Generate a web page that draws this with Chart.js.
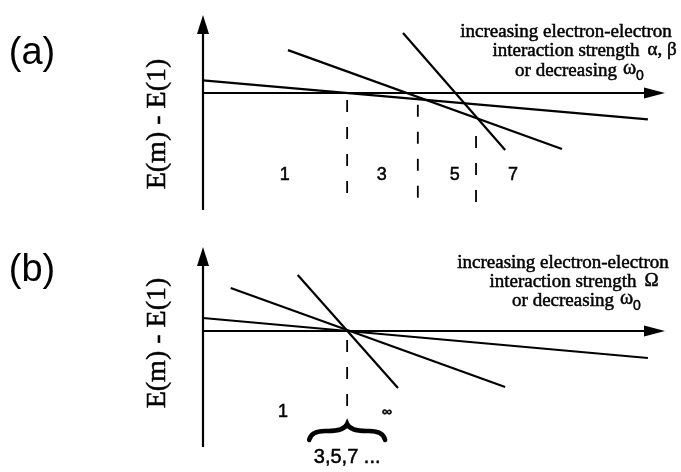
<!DOCTYPE html>
<html>
<head>
<meta charset="utf-8">
<script src="https://cdn.jsdelivr.net/npm/chart.js@4.4.1/dist/chart.umd.min.js"></script>
<style>
  html, body { margin: 0; padding: 0; background: #fff; }
  canvas { display: block; }
</style>
</head>
<body>
<canvas id="chart-a" width="681" height="236"></canvas>
<canvas id="chart-b" width="681" height="236"></canvas>
<script>
/* E(m) - E(1) vs interaction strength, schematic level crossings */

// panel (a): level lines m = 3, 5, 7 (x = interaction strength, y = E(m) - E(1))
var aLineX = [[0, 9.63], [1.84, 7.77], [4.33, 6.54]];
var aLineY = [[0.65, -1.35], [2.2, -2.87], [3.08, -2.92]];
var aCrossX = [3.12, 4.65, 5.91];
var aCrossTop = [-0.36, -0.6, -2.2];
var aLevels = ['1', '3', '5', '7'];
var aLevelX = [1.77, 3.87, 5.45, 6.71];

// panel (b): all levels cross at one point
var bLineX = [[0, 9.63], [0.6, 6.54], [2.05, 4.22]];
var bLineY = [[0.65, -1.35], [2.15, -2.8], [2.8, -2.85]];
var bCrossX = [3.12];
var bCrossTop = [-0.45];
var bLevels = ['1', '\u221e'];
var bLevelX = [1.73, 3.98];

(function () {
    'use strict';

    var serif = "'Liberation Serif', 'Times New Roman', serif";
    var sans = "'Liberation Sans', Arial, sans-serif";

    function lineSets(xs, ys, crossX, crossTop, crossBottom) {
        var sets = xs.map(function (x, i) {
            return {
                data: [{ x: x[0], y: ys[i][0] }, { x: x[1], y: ys[i][1] }],
                borderColor: '#000',
                borderWidth: 2.2,
                showLine: true,
                pointRadius: 0,
                clip: false
            };
        });
        crossX.forEach(function (cx, i) {
            sets.push({
                data: [{ x: cx, y: crossTop[i] }, { x: cx, y: crossBottom }],
                borderColor: '#000',
                borderWidth: 1.8,
                borderDash: [12, 15],
                showLine: true,
                pointRadius: 0,
                clip: false
            });
        });
        return sets;
    }

    function drawText(ctx, txt, x, y, font, align, thin) {
        ctx.font = font;
        ctx.textAlign = align || 'center';
        ctx.textBaseline = 'middle';
        ctx.fillText(txt, x, y);
        if (thin) return;
        ctx.lineWidth = 0.5;
        ctx.strokeText(txt, x, y);
    }

    // axes with arrow heads, labels and notes
    function diagram(cfg) {
        return {
            id: 'diagram',
            afterDatasetsDraw: function (chart) {
                var ctx = chart.ctx;
                var xs = chart.scales.x, ys = chart.scales.y;
                var x0 = xs.getPixelForValue(0);
                var y0 = ys.getPixelForValue(0);
                var xEnd = xs.getPixelForValue(xs.max);
                var yTop = ys.getPixelForValue(ys.max);
                var yBot = ys.getPixelForValue(ys.min);
                ctx.save();
                ctx.strokeStyle = '#000';
                ctx.fillStyle = '#000';
                ctx.lineWidth = 2.2;

                ctx.beginPath();
                ctx.moveTo(x0, yBot); ctx.lineTo(x0, yTop + 10);
                ctx.moveTo(x0, y0); ctx.lineTo(xEnd - 12, y0);
                ctx.stroke();

                ctx.beginPath();
                ctx.moveTo(x0, yTop); ctx.lineTo(x0 - 6, yTop + 19); ctx.lineTo(x0 + 6, yTop + 19);
                ctx.closePath(); ctx.fill();
                ctx.beginPath();
                ctx.moveTo(xEnd, y0); ctx.lineTo(xEnd - 21, y0 - 5.5); ctx.lineTo(xEnd - 21, y0 + 5.5);
                ctx.closePath(); ctx.fill();

                drawText(ctx, cfg.tag, 32, cfg.tagY, '38px ' + sans, 'center', true);

                ctx.save();
                ctx.translate(158, cfg.labelY);
                ctx.rotate(-Math.PI / 2);
                drawText(ctx, 'E(m) - E(1)', 0, 0, '28px ' + serif);
                ctx.restore();

                cfg.levels.forEach(function (t, i) {
                    var small = t === '\u221e';
                    drawText(ctx, t, xs.getPixelForValue(cfg.levelX[i]), ys.getPixelForValue(cfg.levelY),
                        (small ? 'bold 14px ' : '18px ') + sans);
                });

                var n = cfg.note;
                var f = '19px ' + serif;
                drawText(ctx, 'increasing electron-electron', n.cx, n.y[0], f);
                drawText(ctx, 'interaction strength', n.cx, n.y[1], f);
                ctx.font = f;
                var w2 = ctx.measureText('interaction strength').width;
                drawText(ctx, n.sym, n.cx + w2 / 2 + 8, n.y[1] - 1, f, 'left');
                ctx.font = f;
                var w3 = ctx.measureText('or decreasing').width;
                drawText(ctx, 'or decreasing', n.cx, n.y[2], f);
                drawText(ctx, '\u03c9', n.cx + w3 / 2 + 6, n.y[2] - 2, '20px ' + serif, 'left');
                drawText(ctx, '0', n.cx + w3 / 2 + 19, n.y[2] + 5, '14px ' + sans, 'left');

                if (cfg.brace) {
                    var bx = xs.getPixelForValue(cfg.brace.x);
                    var tip = ys.getPixelForValue(cfg.brace.tip);
                    var end = ys.getPixelForValue(cfg.brace.end);
                    var mid = (tip + end) / 2;
                    var hw = 38;
                    ctx.lineWidth = 4.5;
                    ctx.lineCap = 'round';
                    ctx.beginPath();
                    ctx.moveTo(bx - hw, end + 2);
                    ctx.quadraticCurveTo(bx - hw + 2, mid - 1, bx - hw / 2, mid);
                    ctx.quadraticCurveTo(bx - 3, mid, bx, tip);
                    ctx.quadraticCurveTo(bx + 3, mid, bx + hw / 2, mid);
                    ctx.quadraticCurveTo(bx + hw - 2, mid - 1, bx + hw, end + 2);
                    ctx.stroke();
                    drawText(ctx, '3,5,7 ...', bx, ys.getPixelForValue(cfg.brace.textY), '20px ' + sans);
                }
                ctx.restore();
            }
        };
    }

    function makeChart(id, sets, yMin, yMax, pad, plugin) {
        return new Chart(document.getElementById(id), {
            type: 'scatter',
            data: { datasets: sets },
            options: {
                responsive: false,
                animation: false,
                layout: { padding: pad },
                plugins: { legend: { display: false }, tooltip: { enabled: false } },
                scales: {
                    x: { type: 'linear', min: 0, max: 10, display: false },
                    y: { type: 'linear', min: yMin, max: yMax, display: false }
                }
            },
            plugins: [plugin]
        });
    }

    /* (a) */
    makeChart('chart-a', lineSets(aLineX, aLineY, aCrossX, aCrossTop, -5.9), -6, 4,
        { left: 203, right: 16, top: 15, bottom: 26 },
        diagram({
            tag: '(a)', tagY: 54, labelY: 124,
            levels: aLevels, levelX: aLevelX, levelY: -4.2,
            note: { cx: 566, y: [32, 51, 71], sym: '\u03b1, \u03b2' }
        }));

    /* (b) */
    makeChart('chart-b', lineSets(bLineX, bLineY, bCrossX, bCrossTop, -4.35), -5.8, 4.2,
        { left: 203, right: 16, top: 11, bottom: 25 },
        diagram({
            tag: '(b)', tagY: 35, labelY: 107,
            levels: bLevels, levelX: bLevelX, levelY: -4.05,
            note: { cx: 563, y: [27, 46, 65], sym: '\u03a9' },
            brace: { x: 3.12, tip: -4.65, end: -5.35, textY: -6.3 }
        }));
})();
</script>
</body>
</html>
